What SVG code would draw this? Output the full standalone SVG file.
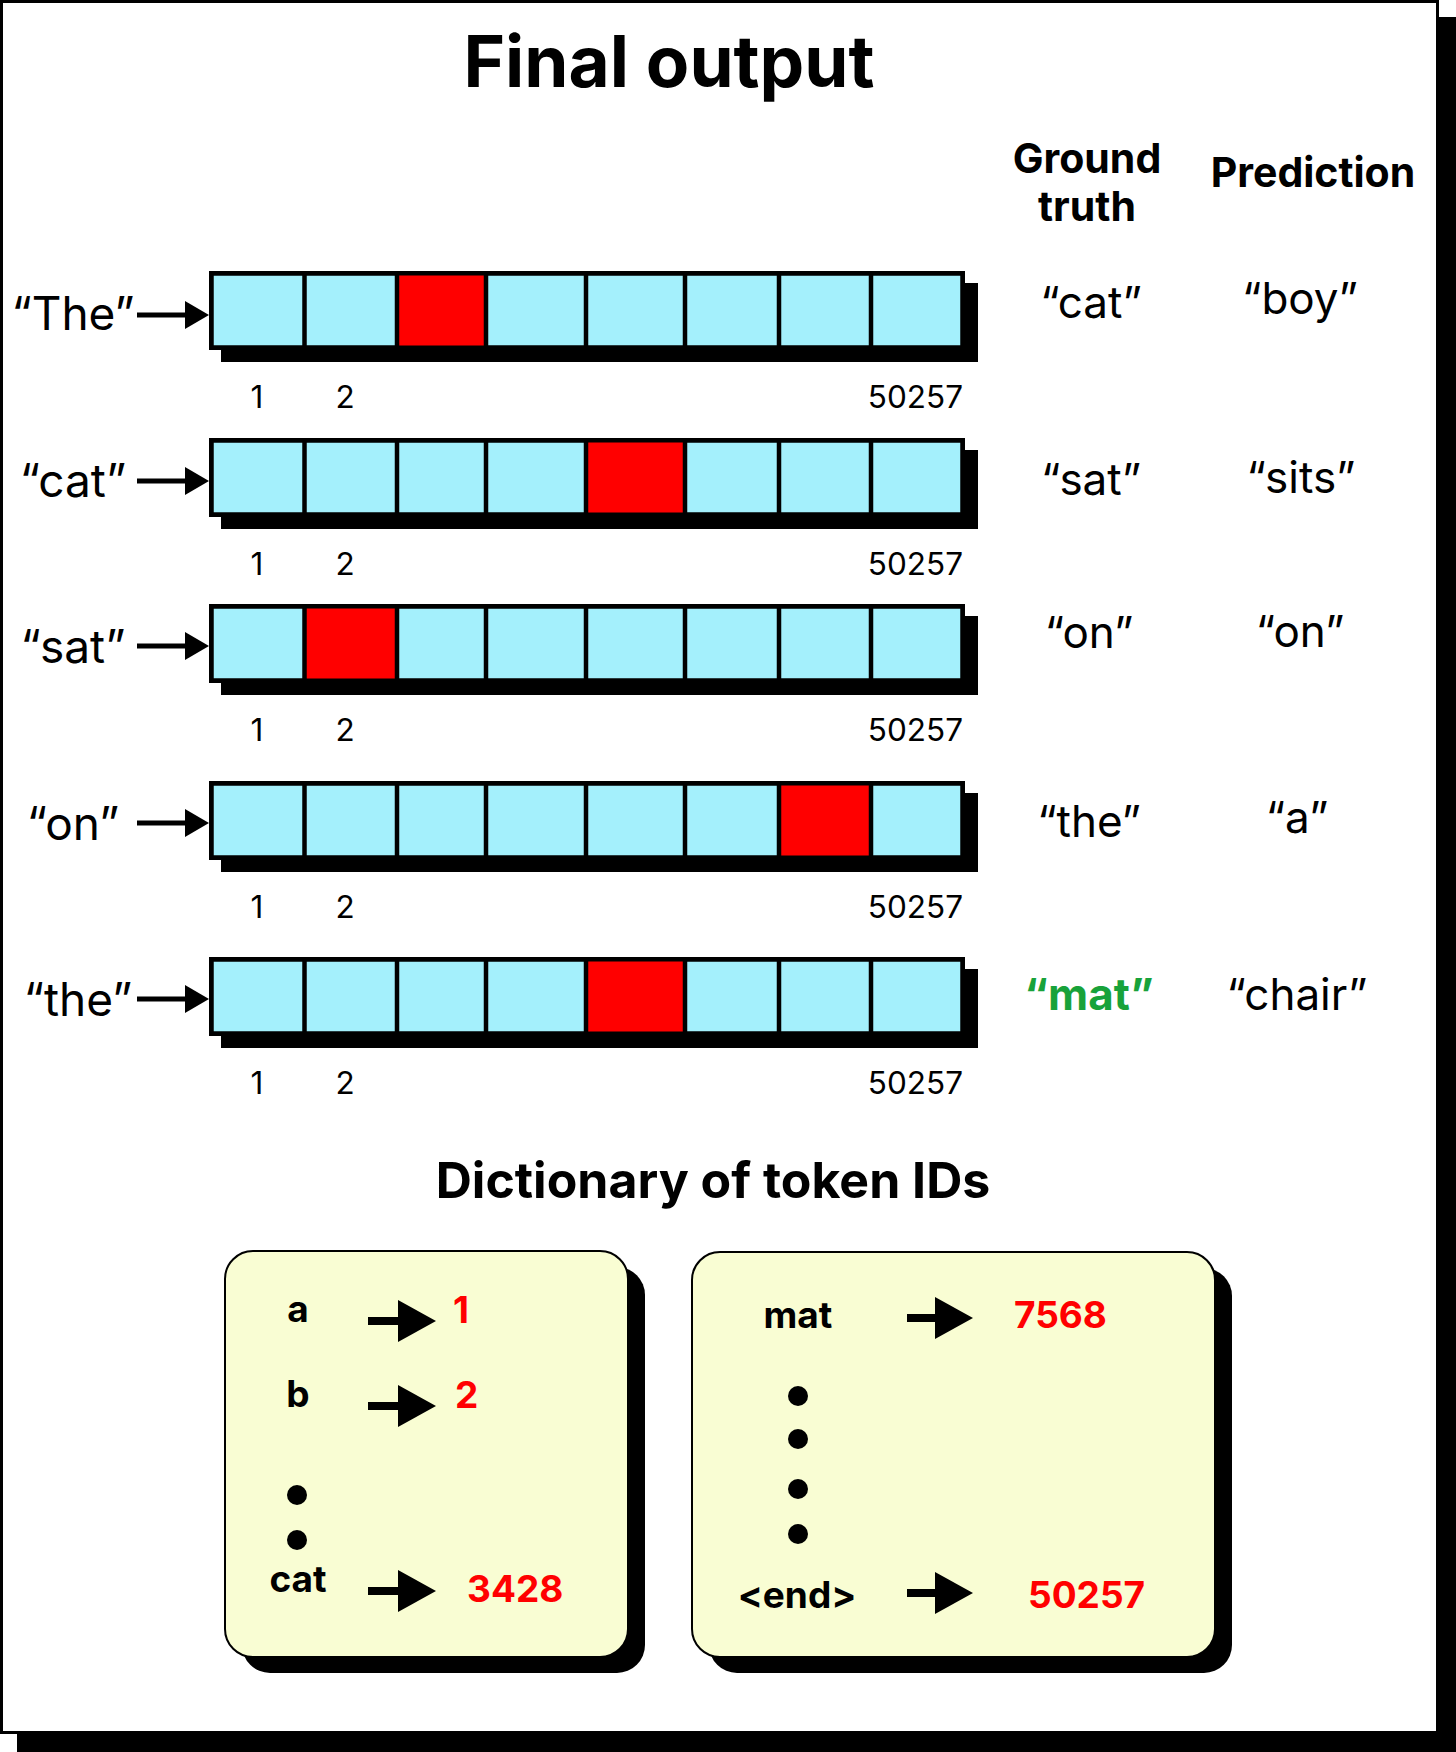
<svg xmlns="http://www.w3.org/2000/svg" width="1456" height="1752" viewBox="0 0 1456 1752">
<style>
text{font-family:Inter,"Noto Sans","Liberation Sans",sans-serif;fill:#000}
.title{font-size:71px;font-weight:700;text-anchor:middle}
.hdr{font-size:41px;font-weight:700;text-anchor:middle}
.lbl{font-size:46px;text-anchor:middle}
.rl{font-size:44px;text-anchor:middle}
.num{font-size:31.5px}
.mid{text-anchor:middle}
.end{text-anchor:end}
.dt{font-size:50px;font-weight:700;text-anchor:middle}
.dk{font-size:37px;font-weight:700;text-anchor:middle}
.dv{font-size:37px;font-weight:700;fill:#ff0000}
.shadow{fill:#000}
.bar{fill:#a4f0fc;stroke:#000;stroke-width:4.5}
.hot{fill:#ff0000}
.div{stroke:#000;stroke-width:4.5}
.box{fill:#f9fdd3;stroke:#000;stroke-width:2}
.a1{stroke:#000;stroke-width:5;fill:none}
.a2{stroke:#000;stroke-width:8;fill:none}
</style>
<defs>
<marker id="ah1" markerUnits="userSpaceOnUse" markerWidth="24" markerHeight="28" refX="0" refY="14" orient="auto"><path d="M0,0 L24,14 L0,28 Z" fill="#000"/></marker>
<marker id="ah2" markerUnits="userSpaceOnUse" markerWidth="38" markerHeight="42" refX="0" refY="21" orient="auto"><path d="M0,0 L38,21 L0,42 Z" fill="#000"/></marker>
<g id="cells">
<rect x="221" y="12" width="757" height="79" class="shadow"/>
<rect x="211.25" y="2.25" width="751.5" height="74.5" class="bar"/>
</g>
<g id="dividers">
<line x1="304.5" y1="0" x2="304.5" y2="79" class="div"/>
<line x1="397" y1="0" x2="397" y2="79" class="div"/>
<line x1="486" y1="0" x2="486" y2="79" class="div"/>
<line x1="586" y1="0" x2="586" y2="79" class="div"/>
<line x1="685" y1="0" x2="685" y2="79" class="div"/>
<line x1="779" y1="0" x2="779" y2="79" class="div"/>
<line x1="871" y1="0" x2="871" y2="79" class="div"/>
<rect x="211.25" y="2.25" width="751.5" height="74.5" fill="none" stroke="#000" stroke-width="4.5"/>
</g>
</defs>

<g id="frame">
<rect x="17" y="17" width="1439" height="1735" fill="#000"/>
<rect x="1.5" y="1.5" width="1436" height="1731" fill="#fff" stroke="#000" stroke-width="3"/>
</g>

<g id="title"><text x="669" y="87" class="title">Final output</text></g>

<g id="headers">
<text x="1087" y="173" class="hdr">Ground</text>
<text x="1087" y="221" class="hdr">truth</text>
<text x="1313" y="187" class="hdr">Prediction</text>
</g>

<g id="row1" transform="translate(0,271)">
<use href="#cells"/>
<rect x="397" y="2" width="89" height="75" class="hot"/>
<use href="#dividers"/>
<text x="257" y="137" class="num mid">1</text>
<text x="345" y="137" class="num mid">2</text>
<text x="963" y="137" class="num end">50257</text>
<text x="73" y="59" class="lbl">“The”</text>
<text x="1091" y="47" class="rl">“cat”</text>
<text x="1300" y="43" class="rl">“boy”</text>
</g>

<g id="row2" transform="translate(0,438)">
<use href="#cells"/>
<rect x="586" y="2" width="99" height="75" class="hot"/>
<use href="#dividers"/>
<text x="257" y="137" class="num mid">1</text>
<text x="345" y="137" class="num mid">2</text>
<text x="963" y="137" class="num end">50257</text>
<text x="73" y="59" class="lbl">“cat”</text>
<text x="1091" y="57" class="rl">“sat”</text>
<text x="1301" y="55" class="rl">“sits”</text>
</g>

<g id="row3" transform="translate(0,604)">
<use href="#cells"/>
<rect x="304.5" y="2" width="92.5" height="75" class="hot"/>
<use href="#dividers"/>
<text x="257" y="137" class="num mid">1</text>
<text x="345" y="137" class="num mid">2</text>
<text x="963" y="137" class="num end">50257</text>
<text x="73" y="59" class="lbl">“sat”</text>
<text x="1089" y="44" class="rl">“on”</text>
<text x="1300" y="43" class="rl">“on”</text>
</g>

<g id="row4" transform="translate(0,781)">
<use href="#cells"/>
<rect x="779" y="2" width="92" height="75" class="hot"/>
<use href="#dividers"/>
<text x="257" y="137" class="num mid">1</text>
<text x="345" y="137" class="num mid">2</text>
<text x="963" y="137" class="num end">50257</text>
<text x="73" y="59" class="lbl">“on”</text>
<text x="1089" y="56" class="rl">“the”</text>
<text x="1297" y="52" class="rl">“a”</text>
</g>

<g id="row5" transform="translate(0,957)">
<use href="#cells"/>
<rect x="586" y="2" width="99" height="75" class="hot"/>
<use href="#dividers"/>
<text x="257" y="137" class="num mid">1</text>
<text x="345" y="137" class="num mid">2</text>
<text x="963" y="137" class="num end">50257</text>
<text x="78" y="59" class="lbl">“the”</text>
<text x="1089" y="53" class="rl" style="font-weight:700;fill:#18a23a">“mat”</text>
<text x="1297" y="53" class="rl">“chair”</text>
</g>

<g id="dict-title"><text x="713" y="1198" class="dt">Dictionary of token IDs</text></g>

<g id="dict-box-1">
<rect x="242" y="1267" width="403" height="406" rx="28" class="shadow"/>
<rect x="225" y="1251" width="403" height="406" rx="28" class="box"/>
<text x="298" y="1322" class="dk">a</text>
<text x="298" y="1407" class="dk">b</text>
<circle cx="297" cy="1495" r="10"/>
<circle cx="297" cy="1540" r="10"/>
<text x="298" y="1592" class="dk">cat</text>
<text x="453" y="1323" class="dv">1</text>
<text x="455" y="1408" class="dv">2</text>
<text x="467" y="1602" class="dv">3428</text>
</g>

<g id="dict-box-2">
<rect x="709" y="1268" width="523" height="405" rx="28" class="shadow"/>
<rect x="692" y="1252" width="523" height="405" rx="28" class="box"/>
<text x="798" y="1328" class="dk">mat</text>
<circle cx="798" cy="1396" r="10"/>
<circle cx="798" cy="1439" r="10"/>
<circle cx="798" cy="1489" r="10"/>
<circle cx="798" cy="1534" r="10"/>
<text x="797" y="1608" class="dk">&lt;end&gt;</text>
<text x="1014" y="1328" class="dv">7568</text>
<text x="1028" y="1608" class="dv">50257</text>
</g>

<g id="connectors">
<line x1="137" y1="315" x2="185" y2="315" class="a1" marker-end="url(#ah1)"/>
<line x1="137" y1="481" x2="185" y2="481" class="a1" marker-end="url(#ah1)"/>
<line x1="137" y1="646" x2="185" y2="646" class="a1" marker-end="url(#ah1)"/>
<line x1="137" y1="823" x2="185" y2="823" class="a1" marker-end="url(#ah1)"/>
<line x1="137" y1="999" x2="185" y2="999" class="a1" marker-end="url(#ah1)"/>
<line x1="368" y1="1321" x2="398" y2="1321" class="a2" marker-end="url(#ah2)"/>
<line x1="368" y1="1406" x2="398" y2="1406" class="a2" marker-end="url(#ah2)"/>
<line x1="368" y1="1591" x2="398" y2="1591" class="a2" marker-end="url(#ah2)"/>
<line x1="907" y1="1318" x2="935" y2="1318" class="a2" marker-end="url(#ah2)"/>
<line x1="907" y1="1593" x2="935" y2="1593" class="a2" marker-end="url(#ah2)"/>
</g>
</svg>
